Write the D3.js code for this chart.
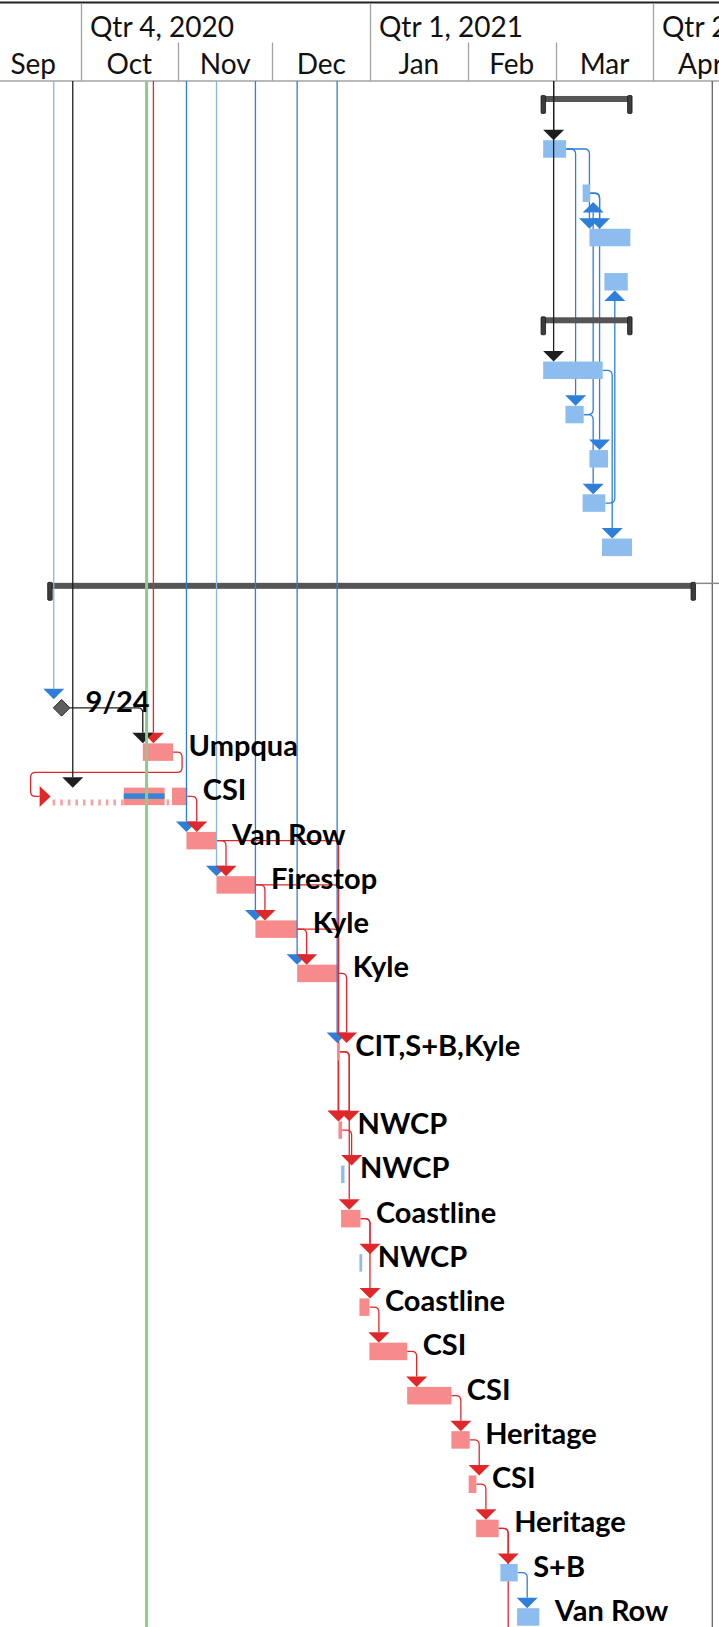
<!DOCTYPE html>
<html><head><meta charset="utf-8">
<script src="https://cdn.jsdelivr.net/npm/d3@7"></script>
<style>
html,body{margin:0;padding:0;background:#fff;}
svg{display:block;}
</style></head><body>
<svg id="chart" width="719" height="1627"></svg>
<script>
// ---------------- DATA ----------------
const quarterLabels = ["Qtr 4, 2020", "Qtr 1, 2021", "Qtr 2, 2021"];
const quarterStarts = ["2020-10-01", "2021-01-01", "2021-04-01"];
const monthLabels = ["Sep", "Oct", "Nov", "Dec", "Jan", "Feb", "Mar", "Apr"];
const monthStarts = ["2020-09-01", "2020-10-01", "2020-11-01", "2020-12-01", "2021-01-01", "2021-02-01", "2021-03-01", "2021-04-01", "2021-05-01"];

const taskIds = ["sumA","a1","a2","a3","a4","sumB","b1","b2","b3","b4","b5","project","blank","m924","umpqua","csi","vanrow","firestop","kyle1","kyle2","cit","nwcp1","nwcp2","coast1","nwcp3","coast2","csi2","csi3","heritage1","csi4","heritage2","sb","vanrow2"];
const taskLabels = ["","","","","","","","","","","","","","9/24","Umpqua","CSI","Van Row","Firestop","Kyle","Kyle","CIT,S+B,Kyle","NWCP","NWCP","Coastline","NWCP","Coastline","CSI","CSI","Heritage","CSI","Heritage","S+B","Van Row"];
const taskTypes = ["summary","norm","norm","norm","norm","summary","norm","norm","norm","norm","norm","summary","blank","milestone","crit","split","crit","crit","crit","crit","crit","crit","norm","crit","norm","crit","crit","crit","crit","crit","crit","norm","norm"];
const taskStarts = ["2021-02-24 08:00","2021-02-25 00:00","2021-03-09 13:00","2021-03-11 17:00","2021-03-16 11:00","2021-02-24 08:00","2021-02-25 00:00","2021-03-04 02:00","2021-03-11 17:00","2021-03-09 13:00","2021-03-15 17:00","2020-09-20 14:00",null,"2020-09-25 00:00","2020-10-20 19:00","2020-09-21 12:00","2020-11-03 16:00","2020-11-13 05:00","2020-11-25 14:00","2020-12-08 20:00","2020-12-21 13:00","2020-12-21 23:00","2020-12-22 19:00","2020-12-22 19:00","2020-12-28 15:00","2020-12-28 15:00","2020-12-31 19:00","2021-01-12 19:00","2021-01-26 20:00","2021-02-01 08:00","2021-02-03 17:00","2021-02-11 10:00","2021-02-16 17:00"];
const taskEnds = ["2021-03-25 06:00","2021-03-04 07:00","2021-03-11 22:00","2021-03-24 17:00","2021-03-23 21:00","2021-03-25 06:00","2021-03-15 22:00","2021-03-09 21:00","2021-03-17 15:00","2021-03-16 18:00","2021-03-25 06:00","2021-04-14 10:00",null,"2020-09-25 00:00","2020-10-30 10:00","2020-11-03 22:00","2020-11-13 05:00","2020-11-25 14:00","2020-12-08 20:00","2020-12-21 13:00","2020-12-22 09:00","2020-12-23 03:00","2020-12-23 21:00","2020-12-28 23:00","2020-12-29 12:00","2020-12-31 19:00","2021-01-12 19:00","2021-01-26 20:00","2021-02-01 16:00","2021-02-03 19:00","2021-02-10 21:00","2021-02-16 22:00","2021-02-23 19:00"];

// split task (CSI) segments and progress
const splitSegStarts = ["2020-10-14 18:00", "2020-10-30 02:00"];
const splitSegEnds = ["2020-10-27 17:00", "2020-11-03 22:00"];
const splitProgressEnd = "2020-10-27 17:00";

// dependency links
const links = [
  {from:"top", to:"a1", kind:"black", at:"2021-02-28 08:00"},
  {from:"top", to:"b1", kind:"black", at:"2021-02-28 08:00"},
  {from:"a1", to:"b2", kind:"norm"},
  {from:"a1", to:"a3", kind:"norm"},
  {from:"a2", to:"a3", kind:"norm"},
  {from:"a2", to:"b3", kind:"norm"},
  {from:"b2", to:"a2", kind:"norm"},
  {from:"b2", to:"b4", kind:"norm"},
  {from:"b4", to:"a4", kind:"norm"},
  {from:"b1", to:"b5", kind:"norm"},
  {from:"top", to:"m924", kind:"pale", at:"2020-09-22 12:00"},
  {from:"top", to:"umpqua", kind:"crit", at:"2020-10-24 04:00"},
  {from:"m924", to:"umpqua", kind:"black"},
  {from:"top", to:"csi", kind:"black", at:"2020-09-28 13:00"},
  {from:"umpqua", to:"csi", kind:"crit", wrap:true},
  {from:"top", to:"vanrow", kind:"norm"},
  {from:"csi", to:"vanrow", kind:"crit"},
  {from:"top", to:"firestop", kind:"pale"},
  {from:"vanrow", to:"firestop", kind:"crit"},
  {from:"vanrow", to:"nwcp1", kind:"crit"},
  {from:"top", to:"kyle1", kind:"norm"},
  {from:"firestop", to:"kyle1", kind:"crit"},
  {from:"firestop", to:"nwcp1", kind:"crit"},
  {from:"top", to:"kyle2", kind:"norm"},
  {from:"kyle1", to:"kyle2", kind:"crit"},
  {from:"kyle1", to:"nwcp1", kind:"crit"},
  {from:"top", to:"cit", kind:"norm"},
  {from:"kyle2", to:"cit", kind:"crit"},
  {from:"cit", to:"nwcp1", kind:"crit"},
  {from:"cit", to:"coast1", kind:"crit"},
  {from:"nwcp1", to:"nwcp2", kind:"crit"},
  {from:"coast1", to:"nwcp3", kind:"crit"},
  {from:"coast1", to:"coast2", kind:"crit"},
  {from:"coast2", to:"csi2", kind:"crit"},
  {from:"csi2", to:"csi3", kind:"crit"},
  {from:"csi3", to:"heritage1", kind:"crit"},
  {from:"heritage1", to:"csi4", kind:"crit"},
  {from:"csi4", to:"heritage2", kind:"crit"},
  {from:"heritage2", to:"sb", kind:"crit"},
  {from:"heritage2", to:"bottom", kind:"crit"},
  {from:"sb", to:"vanrow2", kind:"norm"}
];

const todayDate = "2020-10-22 00:00";
const frameLineDate = "2021-04-19 18:00";

// ---------------- LAYOUT ----------------
const W = 719, H = 1627, headerBottom = 81;
const rowTop0 = 82.6, rowUnit = 44.26;
const rowSpanById = {blank: 1.627, cit: 2.54};
const barH = 17.5, triW = 10.5, triH = 10.5, dropOffset = 9.5, corner = 5;

const colors = {
  crit: "#e0282a", norm: "#2e7fd9", pale: "#86b6e8", black: "#1e1e1e", grey: "#777"
};
const triColors = {crit: "#e0282a", norm: "#2e7fd9", pale: "#2e7fd9", black: "#1e1e1e"};
const barFill = {crit: "#f78a8a", split: "#f78a8a", norm: "#8dbdee"};

const parse = s => new Date(s.replace(" ", "T") + (s.length === 10 ? "T00:00" : ""));

const x = d3.scaleTime()
  .domain([parse("2020-10-01"), parse("2021-04-01")])
  .range([80.5, 653.3]);

// row centers
const tasks = taskIds.map((id, i) => ({
  id, i, label: taskLabels[i], type: taskTypes[i],
  start: taskStarts[i] ? parse(taskStarts[i]) : null,
  end: taskEnds[i] ? parse(taskEnds[i]) : null
}));
let acc = rowTop0;
tasks.forEach(t => {
  const h = rowUnit * (rowSpanById[t.id] || 1);
  t.c = acc + h / 2;
  acc += h;
});
const byId = Object.fromEntries(tasks.map(t => [t.id, t]));

const svg = d3.select("#chart");
const font = "Lato, 'Open Sans', sans-serif";

// ---------------- HEADER ----------------
const hdr = svg.append("g");
hdr.append("rect").attr("x", 0).attr("y", 0).attr("width", W).attr("height", headerBottom).attr("fill", "#fff");
hdr.append("line").attr("x1", 0).attr("x2", W).attr("y1", 2.5).attr("y2", 2.5).attr("stroke", "#222").attr("stroke-width", 1.8);
hdr.append("line").attr("x1", 0).attr("x2", W).attr("y1", headerBottom).attr("y2", headerBottom).attr("stroke", "#a3a3a3").attr("stroke-width", 1.3);
quarterStarts.forEach((q, i) => {
  const qx = Math.round(x(parse(q))) + 0.5;
  hdr.append("line").attr("x1", qx).attr("x2", qx).attr("y1", 3.5).attr("y2", headerBottom).attr("stroke", "#a3a3a3").attr("stroke-width", 1.3);
  hdr.append("text").attr("x", qx + 8.5).attr("y", 36.5).attr("font-family", font).attr("font-size", 28)
    .attr("fill", "#111").text(quarterLabels[i]);
});
monthLabels.forEach((m, i) => {
  const a = x(parse(monthStarts[i])), b = x(parse(monthStarts[i + 1]));
  if (!quarterStarts.includes(monthStarts[i]) && a > 0) {
    const mx = Math.round(a) + 0.5;
    hdr.append("line").attr("x1", mx).attr("x2", mx).attr("y1", 42.5).attr("y2", headerBottom).attr("stroke", "#a3a3a3").attr("stroke-width", 1.3);
  }
  hdr.append("text").attr("x", (a + b) / 2).attr("y", 74).attr("text-anchor", "middle")
    .attr("font-family", font).attr("font-size", 28).attr("fill", "#111").text(m);
});

// ---------------- HELPERS ----------------
const barTop = t => t.type === "milestone" ? t.c - 8.5 : t.c - barH / 2;
const barBot = t => t.type === "milestone" ? t.c + 8.5 : t.c + barH / 2;
const endX = t => t.type === "milestone" ? x(t.end) + 8.5 : x(t.end);

function linkGeom(l) {
  const s = l.to === "bottom" ? null : byId[l.to];
  const p = l.from === "top" ? null : byId[l.from];
  let xv;
  if (l.at) xv = x(parse(l.at));
  else if (!p) xv = x(s.start);
  else if (!s) xv = endX(p) + dropOffset;
  else xv = Math.max(endX(p) + dropOffset, x(s.start));
  const r = corner;
  if (!p) {
    const yEnd = barTop(s) - triH;
    return {path: `M${xv},${headerBottom} V${yEnd}`, tri: `M${xv - triW},${yEnd} L${xv + triW},${yEnd} L${xv},${yEnd + triH} Z`};
  }
  const x1 = endX(p), y1 = p.c;
  if (!s) {
    return {path: `M${x1},${y1} H${xv - r} Q${xv},${y1} ${xv},${y1 + r} V${H}`, tri: null};
  }
  if (l.wrap) {
    const xa = x1 + 9, ym = p.c + 20.3, xt = x(s.start), xb = xt - 20, y2 = s.c, xbase = xt - 11;
    const path = `M${x1},${y1} H${xa - r} Q${xa},${y1} ${xa},${y1 + r} V${ym - r} Q${xa},${ym} ${xa - r},${ym} H${xb + r} Q${xb},${ym} ${xb},${ym + r} V${y2 - r} Q${xb},${y2} ${xb + r},${y2} H${xbase}`;
    return {path, tri: `M${xbase},${y2 - 10.5} L${xbase},${y2 + 10.5} L${xt},${y2} Z`};
  }
  if (s.i > p.i) {
    const yEnd = barTop(s) - triH;
    return {path: `M${x1},${y1} H${xv - r} Q${xv},${y1} ${xv},${y1 + r} V${yEnd}`,
      tri: `M${xv - triW},${yEnd} L${xv + triW},${yEnd} L${xv},${yEnd + triH} Z`};
  } else {
    const yEnd = barBot(s) + triH;
    return {path: `M${x1},${y1} H${xv - r} Q${xv},${y1} ${xv},${y1 - r} V${yEnd}`,
      tri: `M${xv - triW},${yEnd} L${xv + triW},${yEnd} L${xv},${yEnd - triH} Z`};
  }
}
const geoms = links.map(l => Object.assign({l}, linkGeom(l)));

// ---------------- TASK-TO-TASK LINKS (under bars) ----------------
const gLinks = svg.append("g").attr("fill", "none").attr("stroke-width", 1.3);
geoms.filter(g => g.l.from !== "top").forEach(g => {
  gLinks.append("path").attr("d", g.path).attr("stroke", colors[g.l.kind]);
});

// frame line
const fx = x(parse(frameLineDate));
svg.append("line").attr("x1", fx).attr("x2", fx).attr("y1", headerBottom).attr("y2", H).attr("stroke", "#6d6d6d").attr("stroke-width", 1.4);

// ---------------- BARS ----------------
const gBars = svg.append("g");
tasks.forEach(t => {
  if (t.type === "blank") return;
  if (t.type === "summary") {
    const a = x(t.start), b = x(t.end), top = barTop(t);
    gBars.append("rect").attr("x", a).attr("y", top).attr("width", b - a).attr("height", 6).attr("fill", "#555");
    [a, b - 4.5].forEach(cx => {
      gBars.append("rect").attr("x", cx).attr("y", top - 0.5).attr("width", 4.5).attr("height", barH + 0.5)
        .attr("rx", 1).attr("fill", "#3c3c3c").attr("stroke", "#1a1a1a").attr("stroke-width", 0.8);
    });
    return;
  }
  if (t.type === "milestone") {
    const cx = x(t.start), s = 8.3;
    gBars.append("path").attr("d", `M${cx},${t.c - s} L${cx + s},${t.c} L${cx},${t.c + s} L${cx - s},${t.c} Z`)
      .attr("fill", "#5e5e5e").attr("stroke", "#2a2a2a").attr("stroke-width", 1);
    return;
  }
  if (t.type === "split") {
    const gaps = [[t.start, parse(splitSegStarts[0])]];
    for (let k = 0; k < splitSegStarts.length - 1; k++) gaps.push([parse(splitSegEnds[k]), parse(splitSegStarts[k + 1])]);
    gaps.forEach(([a, b]) => {
      gBars.append("line").attr("x1", x(a) + 2).attr("x2", x(b)).attr("y1", t.c + 6).attr("y2", t.c + 6)
        .attr("stroke", "#f7a3a3").attr("stroke-width", 6).attr("stroke-dasharray", "2.6 5");
    });
    splitSegStarts.forEach((s0, k) => {
      const a = x(parse(s0)), b = x(parse(splitSegEnds[k]));
      gBars.append("rect").attr("x", a).attr("y", barTop(t)).attr("width", b - a).attr("height", barH).attr("fill", barFill.split);
    });
    const pa = x(parse(splitSegStarts[0])), pb = x(parse(splitProgressEnd));
    gBars.append("rect").attr("x", pa).attr("y", t.c - 3).attr("width", pb - pa).attr("height", 5.5).attr("fill", "#3585d6");
    return;
  }
  const a = x(t.start), b = x(t.end);
  gBars.append("rect").attr("x", a).attr("y", barTop(t)).attr("width", Math.max(b - a, 2.5)).attr("height", barH)
    .attr("fill", barFill[t.type]);
});

// overflow line from project summary to the right edge
const proj = byId.project;
svg.append("line").attr("x1", x(proj.end)).attr("x2", W).attr("y1", barTop(proj) + 0.5).attr("y2", barTop(proj) + 0.5)
  .attr("stroke", "#8a8a8a").attr("stroke-width", 1.5);

// ---------------- LINKS FROM ABOVE (over bars) ----------------
const gTop = svg.append("g").attr("fill", "none").attr("stroke-width", 1.3);
geoms.filter(g => g.l.from === "top").forEach(g => {
  gTop.append("path").attr("d", g.path).attr("stroke", colors[g.l.kind]);
});

// arrowheads: top links first, then task links
const gTri = svg.append("g");
geoms.filter(g => g.l.from === "top" && g.tri).forEach(g => gTri.append("path").attr("d", g.tri).attr("fill", triColors[g.l.kind]));
geoms.filter(g => g.l.from !== "top" && g.tri).forEach(g => gTri.append("path").attr("d", g.tri).attr("fill", triColors[g.l.kind]));

// today line
const tx = x(parse(todayDate));
svg.append("line").attr("x1", tx).attr("x2", tx).attr("y1", headerBottom + 1).attr("y2", H).attr("stroke", "#8fca89").attr("stroke-width", 3);

// ---------------- LABELS ----------------
const gLab = svg.append("g").attr("font-family", font).attr("font-weight", 700).attr("font-size", 29).attr("fill", "#000");
tasks.filter(t => t.label).forEach(t => {
  gLab.append("text").attr("x", endX(t) + 15.5).attr("y", t.c + 4).text(t.label);
});
</script>
</body></html>
